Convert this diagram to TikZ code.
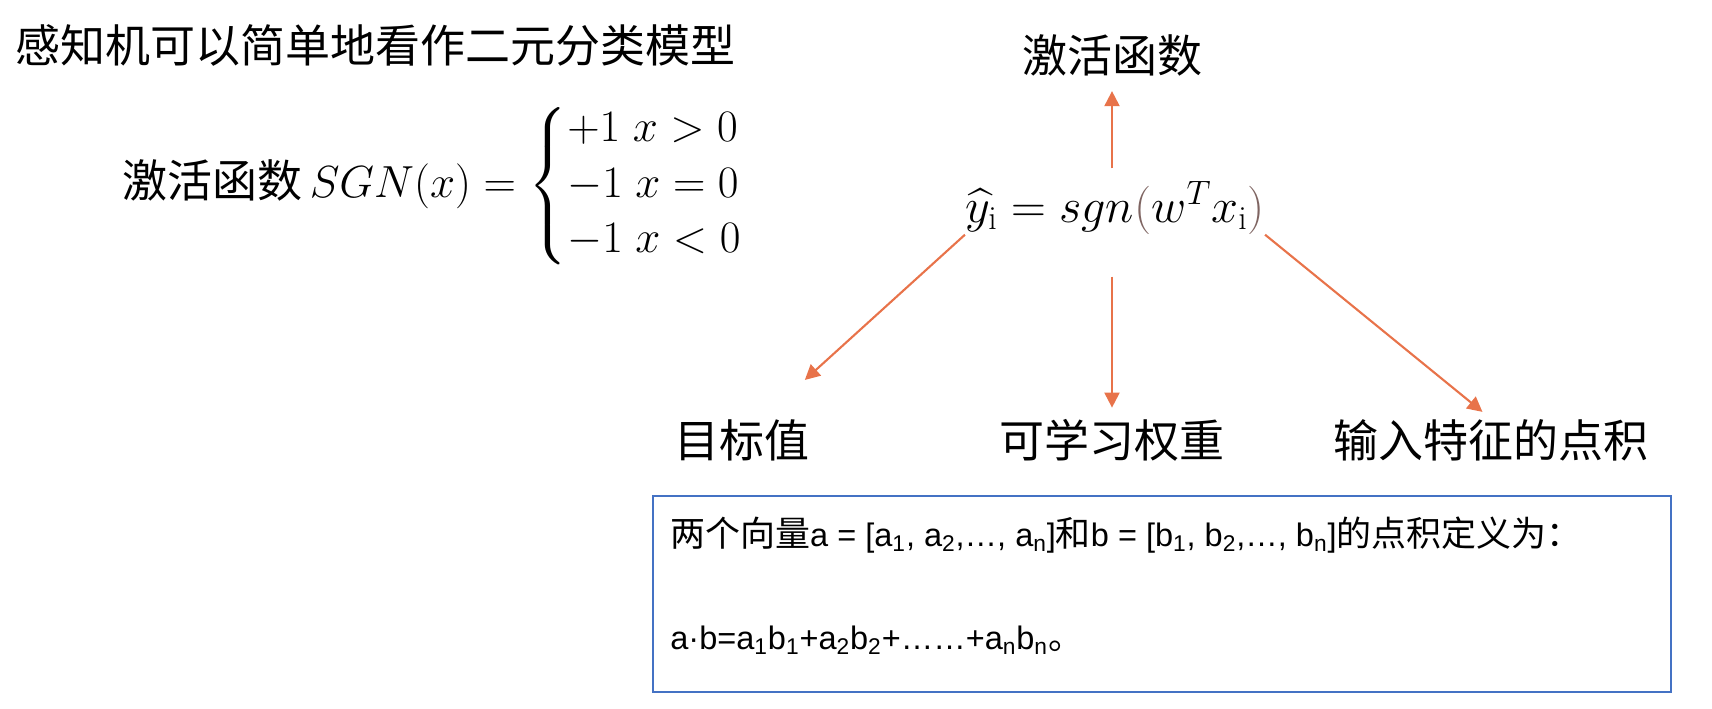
\RequirePackage{fix-cm}
\documentclass[tikz,border=0pt]{standalone}
\usepackage{amsmath}
\usepackage{fontspec}
\setmainfont{Noto Sans CJK SC}
\setmathrm{Latin Modern Roman}
\newfontfamily\helv{Liberation Sans}
\usetikzlibrary{arrows.meta, positioning}
\definecolor{arrorange}{HTML}{E8734A}
\definecolor{boxblue}{HTML}{4472C4}
\definecolor{parbrown}{HTML}{7E6461}

\begin{document}
\begin{tikzpicture}[
        big/.style={font=\fontsize{25.6}{30}\selectfont, inner sep=0pt},
        arr/.style={-{Triangle[length=0.3cm,width=0.3cm]}, line width=1.2pt, draw=arrorange},
        txt/.style={font=\fontsize{19.9}{24}\selectfont, anchor=west, inner sep=0pt}]
        \useasboundingbox (0,0) rectangle (34.24,-14.18);
        %\draw [step=1cm] (0,0) grid (34,-14);
        \node[big, anchor=west] (title) at (0.3,-0.9) {感知机可以简单地看作二元分类模型};
        \node[big, anchor=west] (sgn) at (2.44,-3.72) {激活函数\,$SGN(x)=\renewcommand{\arraystretch}{1.05}\left\{\begin{array}{@{}l@{}} +1\;x>0\\ -1\;x=0\\ -1\;x<0\end{array}\right.$};

        \node[big] (act) at (22.24,-1.1) {激活函数};
        \node[big, font=\fontsize{27.5}{30}\selectfont] (formula) at (22.3,-4.16) {$\widehat{y}_{\mathrm{i}}=sgn\textcolor{parbrown}{(}w^{T}x_{\mathrm{i}}\textcolor{parbrown}{)}$};
        \node[big] (target) at (14.84,-8.8) {目标值};
        \node[big] (weight) at (22.24,-8.8) {可学习权重};
        \node[big] (dot) at (29.82,-8.8) {输入特征的点积};

        \draw[arr, shorten <=0.26cm, shorten >=0.3cm] (formula.north -| act.south) -- (act.south);
        \draw[arr, shorten <=0.84cm, shorten >=0.22cm] (formula.south -| weight.north) -- (weight.north);
        \draw[arr] (formula.south west) -- ([xshift=-0.1cm, yshift=0.78cm]target.north east);
        \draw[arr, shorten >=0.22cm] (formula.south east) -- (dot.north);

        \draw[boxblue, line width=1.2pt] (13.06,-9.92) rectangle (33.42,-13.84);
        \node[txt] (line1) at (13.4,-10.7) {两个向量{\helv\fontsize{18.5}{22}\selectfont a = [a\textsubscript{1}, a\textsubscript{2},…, a\textsubscript{n}]}和{\helv\fontsize{18.5}{22}\selectfont b = [b\textsubscript{1}, b\textsubscript{2},…, b\textsubscript{n}]}的点积定义为：};
        \node[txt] (line2) at (13.4,-12.8) {{\helv\fontsize{18.5}{22}\selectfont a·b=a\textsubscript{1}b\textsubscript{1}+a\textsubscript{2}b\textsubscript{2}+……+a\textsubscript{n}b\textsubscript{n}}。};
\end{tikzpicture}
\end{document}
